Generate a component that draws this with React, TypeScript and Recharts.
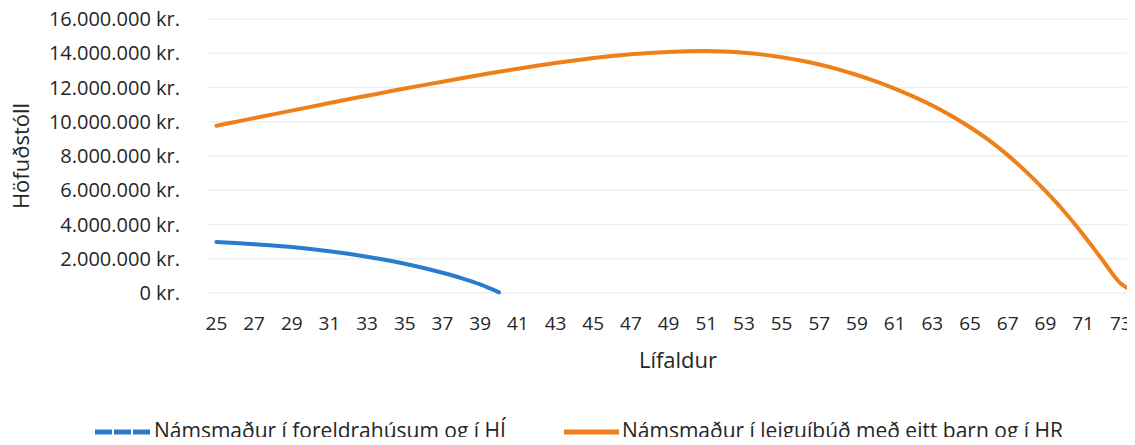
import { LineChart, Line, XAxis, YAxis, CartesianGrid } from "recharts"

// ages 25..74
const ages = [
  25, 26, 27, 28, 29, 30, 31, 32, 33, 34, 35, 36, 37, 38, 39, 40, 41, 42, 43, 44, 45, 46, 47, 48, 49,
  50, 51, 52, 53, 54, 55, 56, 57, 58, 59, 60, 61, 62, 63, 64, 65, 66, 67, 68, 69, 70, 71, 72, 73, 74,
]

// millions kr., only until the loan is paid off
const foreldrahus = [
  2.98, 2.92, 2.85, 2.77, 2.68, 2.57, 2.44, 2.29, 2.12, 1.93, 1.71, 1.46, 1.18, 0.87, 0.5, 0.04,
]

const leiguibud = [
  9.77, 9.99, 10.21, 10.43, 10.65, 10.87, 11.09, 11.31, 11.52, 11.73, 11.94, 12.14, 12.34, 12.54,
  12.73, 12.92, 13.1, 13.27, 13.43, 13.58, 13.72, 13.84, 13.94, 14.02, 14.08, 14.12, 14.13, 14.1,
  14.03, 13.92, 13.77, 13.58, 13.34, 13.06, 12.73, 12.36, 11.94, 11.47, 10.95, 10.35, 9.68, 8.93,
  8.05, 7.06, 5.96, 4.76, 3.42, 1.97, 0.55, 0.05,
]

const yTicks = [0, 2, 4, 6, 8, 10, 12, 14, 16]

const seriesNames = ["Námsmaður í foreldrahúsum og í HÍ", "Námsmaður í leiguíbúð með eitt barn og í HR"]

const data = ages.map((age, i) => ({
  age,
  hi: i < foreldrahus.length ? foreldrahus[i] * 1000000 : null,
  hr: leiguibud[i] * 1000000,
}))

const kr = (v: number) => `${Math.round(v).toString().replace(/\B(?=(\d{3})+(?!\d))/g, ".")} kr.`

const font = "'Open Sans', sans-serif"
const textColor = "#262626"
const blue = "#2b7bcf"
const orange = "#ef8019"

function LegendItem({ left, lineWidth, color, dashed, text }: any) {
  return (
    <div
      style={{
        position: "absolute",
        top: 416,
        left,
        display: "flex",
        alignItems: "center",
        fontSize: 21,
        color: textColor,
        whiteSpace: "nowrap",
      }}
    >
      <svg width={lineWidth} height={6} style={{ marginRight: 3, marginTop: 3 }}>
        <line
          x1={0}
          y1={3}
          x2={lineWidth}
          y2={3}
          stroke={color}
          strokeWidth={5}
          strokeDasharray={dashed ? "17 2" : undefined}
        />
      </svg>
      <span>{text}</span>
    </div>
  )
}

export default function App() {
  return (
    <div
      style={{
        position: "relative",
        width: 1135,
        height: 445,
        margin: -8,
        overflow: "hidden",
        background: "#fff",
        fontFamily: font,
      }}
    >
      <LineChart width={1149} height={445} data={data} margin={{ top: 19, right: 0, bottom: 0, left: 0 }}>
        <CartesianGrid vertical={false} stroke="#efefef" strokeWidth={1.5} />
        <XAxis
          dataKey="age"
          interval={1}
          height={152}
          padding={{ left: 9.4, right: 9.4 }}
          axisLine={false}
          tickLine={false}
          tickMargin={18}
          tick={{ fill: textColor, fontSize: 19, fontFamily: font }}
          label={{
            value: "Lífaldur",
            position: "insideTop",
            offset: 59,
            fill: textColor,
            fontSize: 22,
            fontFamily: font,
          }}
        />
        <YAxis
          width={207}
          domain={[0, 16000000]}
          ticks={yTicks.map((t) => t * 1000000)}
          tickFormatter={kr}
          axisLine={false}
          tickLine={false}
          tickMargin={21}
          tick={{ fill: textColor, fontSize: 20, fontFamily: font }}
          label={{
            value: "Höfuðstóll",
            angle: -90,
            position: "insideLeft",
            offset: 21,
            fill: textColor,
            fontSize: 22,
            fontFamily: font,
            style: { textAnchor: "middle" },
          }}
        />
        <Line
          type="monotone"
          dataKey="hi"
          name={seriesNames[0]}
          stroke={blue}
          strokeWidth={4}
          dot={false}
          strokeLinecap="round"
          isAnimationActive={false}
        />
        <Line
          type="monotone"
          dataKey="hr"
          name={seriesNames[1]}
          stroke={orange}
          strokeWidth={4}
          dot={false}
          strokeLinecap="round"
          isAnimationActive={false}
        />
      </LineChart>
      <LegendItem left={95} lineWidth={56} color={blue} dashed text={seriesNames[0]} />
      <LegendItem left={564} lineWidth={55} color={orange} text={seriesNames[1]} />
    </div>
  )
}
